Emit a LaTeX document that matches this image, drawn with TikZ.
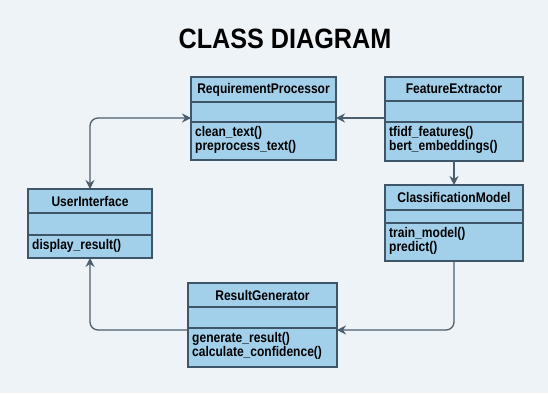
\documentclass[tikz,border=0pt]{standalone}
\usepackage{fontspec}
\setmainfont{Liberation Sans}[FakeStretch=0.86]
\newfontfamily\headfont{Liberation Sans}[FakeStretch=0.9]
\usetikzlibrary{arrows.meta}
\definecolor{bgc}{HTML}{EEF3F8}
\definecolor{boxfill}{HTML}{A2D0EA}
\definecolor{boxline}{HTML}{3E5668}
\definecolor{wire}{HTML}{4B5E6E}
\tikzset{
  title/.style={font=\bfseries\fontsize{14}{15}\selectfont, text=black},
  member/.style={font=\bfseries\fontsize{14}{14}\selectfont, text=black, anchor=north west, align=left, inner sep=0pt},
  wireline/.style={draw=wire, line width=1.3pt, rounded corners=8pt},
  tip/.style={-{Stealth[length=9pt,width=9pt]}},
}
% one class box: name, left, top, right, bottom, header line, method line, class title, methods
\newcommand{\classbox}[9]{%
  \fill[boxfill] (#2,#3) rectangle (#4,#5);
  \draw[boxline, line width=1.1pt] (#2,#6) -- (#4,#6);
  \draw[boxline, line width=1.1pt] (#2,#7) -- (#4,#7);
  \draw[boxline, line width=1.1pt] (#2,#3) rectangle (#4,#5);
  \node[title] (#1-t) at ({(#2+#4)/2},{(#3+#6)/2}) {#8};
  \coordinate (#1-nw) at (#2,#3);
  \coordinate (#1-se) at (#4,#5);
  \node[member] (#1-m) at ({#2+4},{#7+4}) {#9};
}
\begin{document}
\begin{tikzpicture}[x=1pt,y=-1pt]
\fill[bgc] (0,0) rectangle (548,393);
\useasboundingbox (0,0) rectangle (548,393);

\node[font=\headfont\bfseries\fontsize{28}{30}\selectfont] (head) at (285,39) {CLASS DIAGRAM};

\classbox{rp}{191}{77}{336}{160}{102}{122}{RequirementProcessor}{clean\_text()\\preprocess\_text()}
\classbox{fe}{385}{77}{523}{161}{101}{122}{FeatureExtractor}{tfidf\_features()\\bert\_embeddings()}
\classbox{cm}{385}{185}{523}{261}{210}{223}{ClassificationModel}{train\_model()\\predict()}
\classbox{ui}{28}{189}{152}{258}{213}{235}{UserInterface}{display\_result()}
\classbox{rg}{188}{283}{337}{367}{307}{328}{ResultGenerator}{generate\_result()\\calculate\_confidence()}

% anchor points on the box edges
\coordinate (fe-w) at (385,118);
\coordinate (rp-e) at (336,118);
\coordinate (rp-w) at (191,118);
\coordinate (ui-n) at (90,189);
\coordinate (ui-s) at (90,258);
\coordinate (fe-s) at (454,161);
\coordinate (cm-n) at (454,185);
\coordinate (cm-s) at (454,261);
\coordinate (rg-e) at (337,330);
\coordinate (rg-w) at (188,330);

\draw[wireline, tip] (fe-w) -- (rp-e);
\draw[wireline, tip] (fe-s) -- (cm-n);
\draw[wireline, {Stealth[length=9pt,width=9pt]}-{Stealth[length=9pt,width=9pt]}] (ui-n) |- (rp-w);
\draw[wireline, tip] (cm-s) |- (rg-e);
\draw[wireline, tip] (rg-w) -| (ui-s);
\end{tikzpicture}
\end{document}
